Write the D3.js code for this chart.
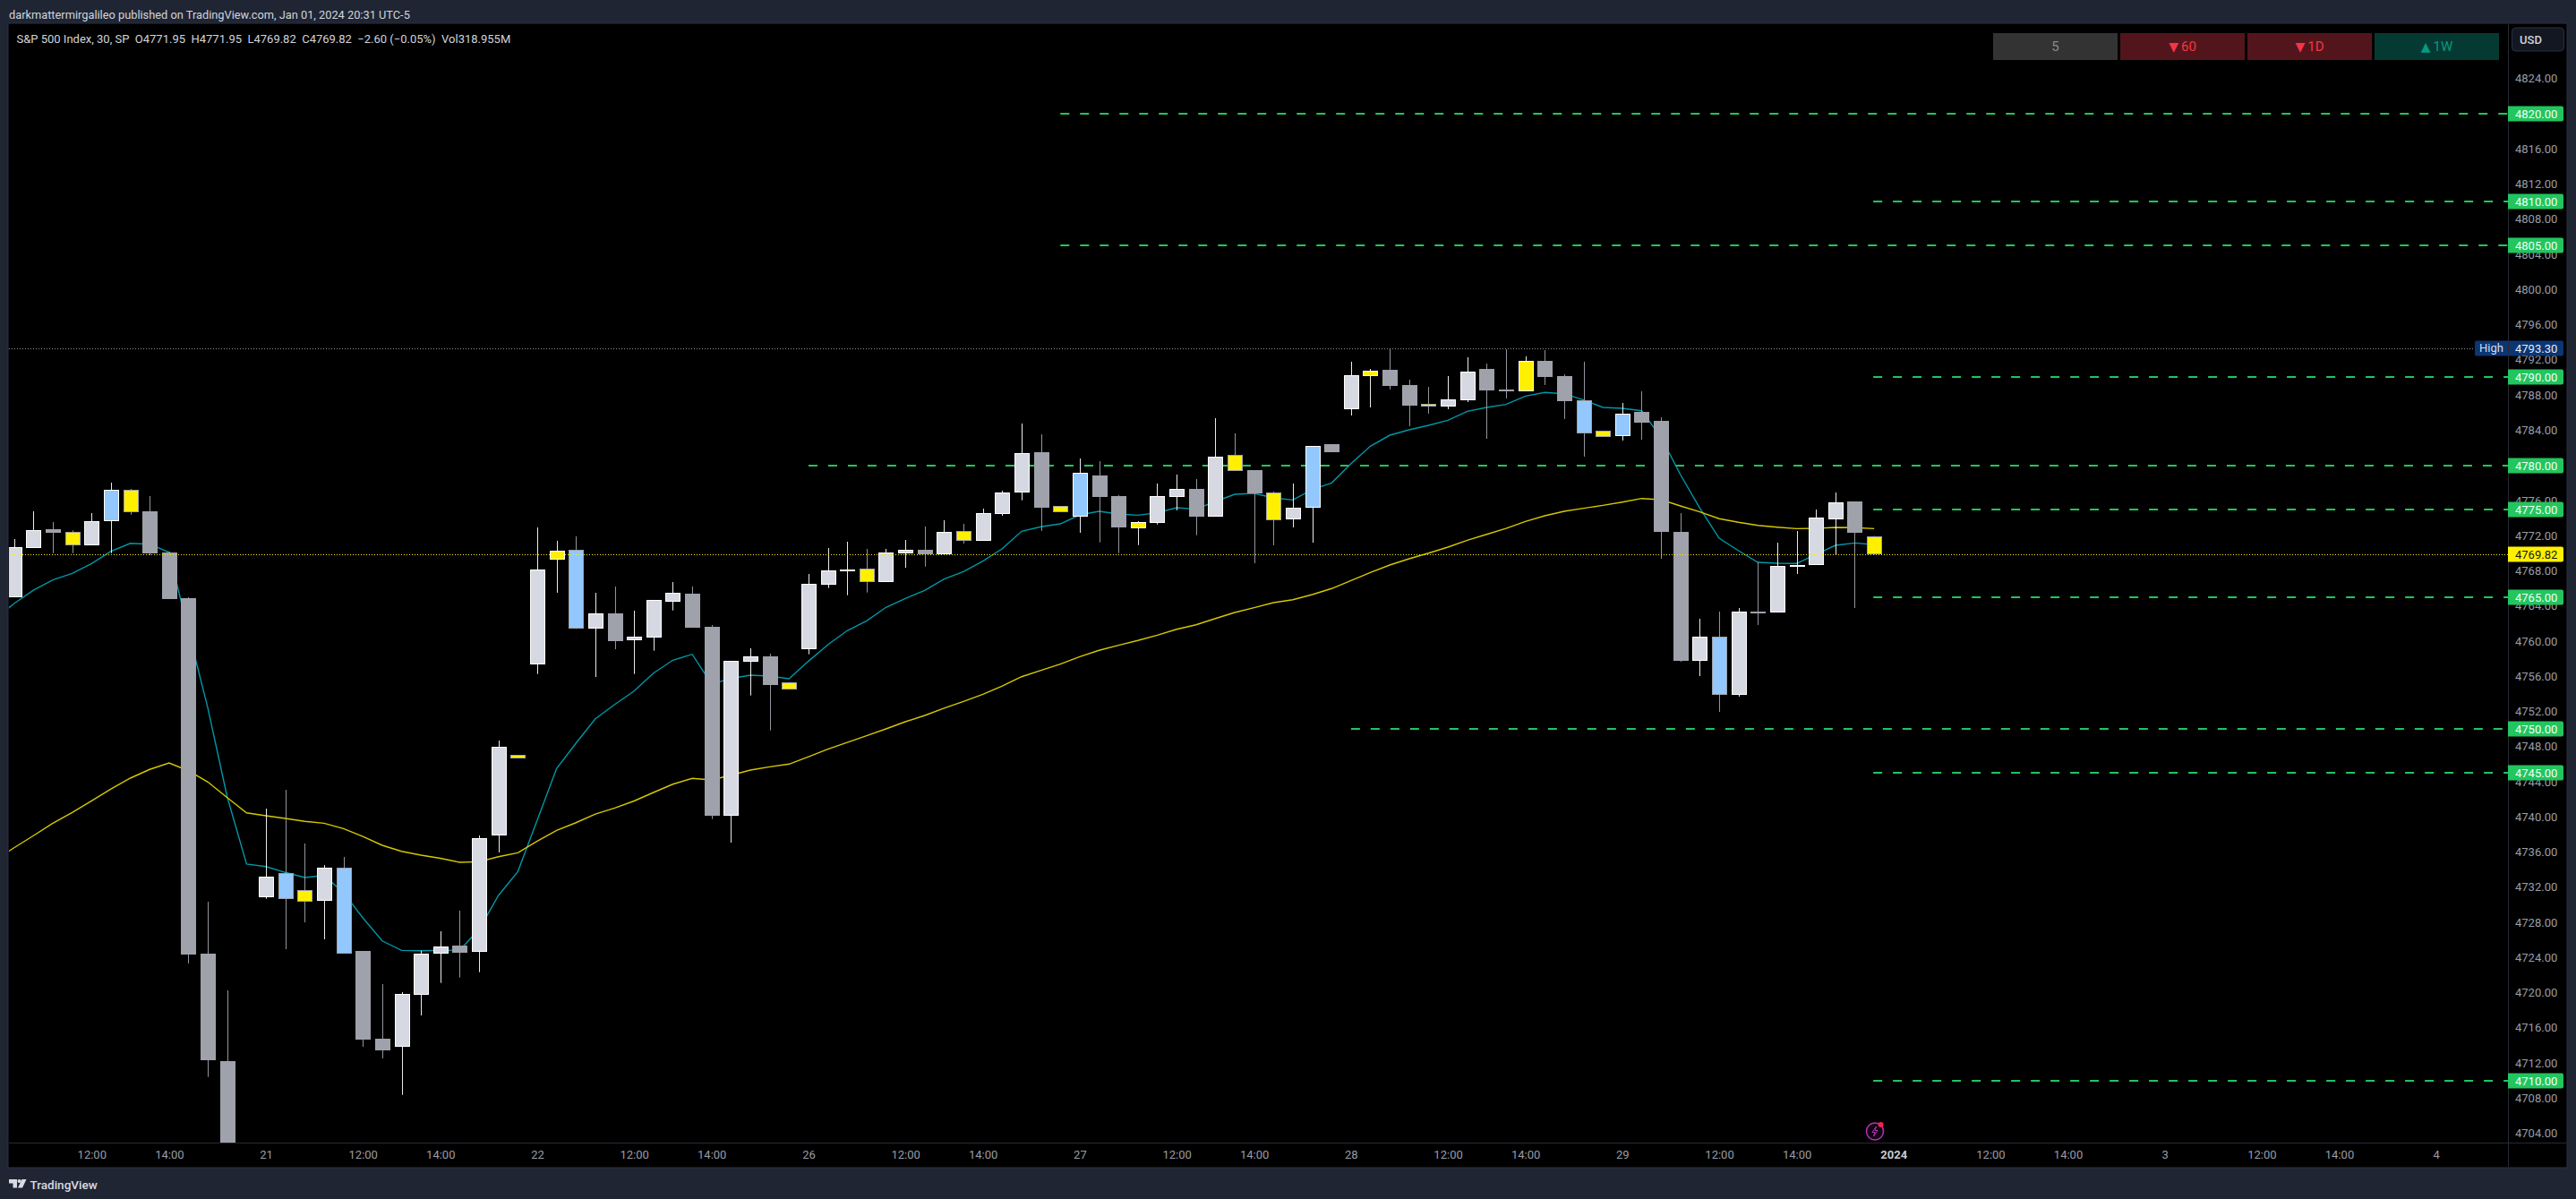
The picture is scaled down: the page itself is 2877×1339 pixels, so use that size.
<!DOCTYPE html>
<html><head><meta charset="utf-8">
<script src="https://cdn.jsdelivr.net/npm/d3@7/dist/d3.min.js"></script>
<style>html,body{margin:0;padding:0;background:#1f2533;overflow:hidden}svg{display:block}text{font-family:Roboto,sans-serif}</style>
</head><body><svg id="c" width="2877" height="1339"></svg>
<script>
const opens=[4765.01,4770.61,4772.72,4772.39,4770.92,4773.67,4777.18,4774.76,4770.07,4764.88,4724.43,4712.20,4701,4730.88,4733.57,4731.63,4730.47,4734.18,4724.73,4714.75,4713.86,4719.77,4724.46,4725.34,4724.60,4737.91,4747.02,4757.37,4769.29,4770.35,4761.44,4763.14,4760.12,4760.42,4764.50,4765.39,4761.62,4740.15,4757.67,4758.22,4755.33,4759.10,4766.44,4768.06,4768.21,4766.74,4770.00,4770.38,4769.90,4772.49,4771.43,4774.49,4776.93,4781.49,4775.34,4774.12,4778.84,4776.49,4772.86,4773.47,4776.42,4777.28,4774.18,4781.15,4779.45,4776.87,4773.87,4775.20,4782.40,4786.41,4790.18,4790.86,4789.13,4786.96,4786.71,4787.43,4790.96,4788.62,4788.44,4791.88,4790.15,4787.37,4783.90,4783.35,4786.07,4785.05,4772.42,4757.78,4760.47,4753.90,4763.32,4763.28,4768.58,4768.68,4773.87,4775.88,4771.95];
const closes=[4770.69,4772.59,4772.32,4770.86,4773.61,4777.18,4774.69,4770.00,4764.78,4724.33,4712.33,4699.46,4698.35,4733.16,4730.67,4730.37,4734.18,4724.46,4714.65,4713.45,4719.84,4724.43,4725.21,4724.56,4737.54,4747.93,4746.67,4768.11,4770.25,4761.38,4763.11,4760.02,4760.47,4764.64,4765.46,4761.55,4740.15,4757.71,4758.22,4755.02,4754.52,4766.48,4768.01,4768.11,4766.74,4770.04,4770.35,4769.87,4772.39,4771.43,4774.53,4776.87,4781.35,4775.17,4774.69,4779.11,4776.39,4772.93,4773.51,4776.46,4777.28,4774.15,4780.95,4779.38,4776.80,4773.77,4775.14,4782.17,4781.49,4790.22,4790.73,4789.03,4786.78,4786.71,4787.47,4790.62,4788.52,4788.41,4791.85,4790.04,4787.29,4783.66,4783.25,4785.84,4784.85,4772.42,4757.75,4760.47,4753.90,4763.32,4763.28,4768.51,4768.62,4774.02,4775.75,4772.32,4769.82];
const highs=[4771.60,4774.76,4773.54,4772.59,4774.56,4778.02,4777.31,4776.49,4770.18,4764.98,4730.34,4720.25,4702,4740.93,4743.07,4736.96,4734.51,4735.43,4724.73,4720.96,4720.05,4724.76,4726.97,4729.32,4737.88,4748.68,4747.02,4772.93,4771.40,4771.91,4765.49,4766.20,4763.45,4764.64,4766.71,4766.20,4761.82,4757.71,4759.17,4758.56,4755.33,4767.63,4770.58,4771.30,4770.48,4770.48,4771.50,4773.03,4773.74,4773.33,4775.07,4777.10,4784.75,4783.52,4775.34,4780.77,4780.47,4776.60,4773.64,4777.92,4778.94,4778.43,4785.36,4783.63,4779.45,4777.00,4777.92,4782.17,4782.40,4791.78,4790.96,4793.30,4789.74,4788.92,4790.15,4792.29,4791.57,4793.20,4792.39,4793.10,4790.35,4791.78,4783.90,4787.09,4788.41,4785.46,4774.56,4762.53,4763.35,4763.76,4769.02,4771.19,4772.52,4774.96,4776.90,4775.88,4771.95];
const lows=[4765.01,4770.61,4770.00,4770.00,4770.92,4770.00,4774.38,4769.77,4764.78,4723.31,4710.40,4698,4697,4730.67,4724.94,4727.99,4726.06,4724.46,4713.83,4712.51,4708.36,4717.40,4721.10,4721.71,4722.32,4735.94,4746.67,4756.25,4765.49,4761.38,4755.91,4759.07,4756.25,4758.90,4763.48,4761.55,4739.74,4737.06,4753.80,4749.83,4754.52,4758.49,4766.03,4765.21,4765.52,4766.74,4768.34,4768.47,4769.77,4771.09,4771.43,4774.25,4776.01,4772.52,4774.69,4772.32,4771.23,4770.00,4770.92,4773.26,4774.86,4772.04,4774.18,4779.38,4768.85,4770.89,4772.93,4771.19,4781.49,4785.66,4786.58,4788.62,4784.44,4785.87,4786.38,4787.19,4783.01,4787.60,4788.44,4789.13,4785.26,4780.98,4783.25,4782.81,4782.91,4769.36,4757.64,4756.01,4751.94,4753.67,4761.82,4763.28,4767.63,4768.68,4769.87,4763.76,4769.82];
const kinds=("wwgywbyggg"+"gggwbywbgg"+"wwwgwwywyb"+"wgwwwggwwg"+"ywwwywwgwy"+"wwwgybggyw"+"wgwygywbgw"+"yggywwggyg"+"gbybgggwbw"+"gwwwwgy").split("");
const tealMA=[4762.43,4764.27,4765.79,4766.95,4767.70,4768.82,4770.21,4771.12,4771.02,4770.10,4761.14,4752.38,4742.26,4734.62,4734.34,4733.67,4733.09,4733.32,4731.39,4728.50,4725.88,4724.80,4724.76,4724.80,4724.83,4727.18,4731.05,4733.77,4739.61,4745.49,4748.37,4751.15,4752.78,4754.31,4756.35,4757.82,4758.49,4755.10,4755.74,4756.11,4756.01,4755.71,4757.71,4759.58,4761.18,4762.30,4763.83,4764.85,4765.76,4767.05,4767.90,4769.09,4770.51,4772.49,4773.00,4773.33,4774.35,4774.76,4774.46,4774.32,4774.59,4775.17,4775.00,4775.88,4776.70,4776.80,4776.29,4776.05,4777.24,4777.99,4780.19,4782.17,4783.42,4784.03,4784.54,4785.12,4786.14,4786.58,4786.92,4787.87,4788.28,4788.14,4787.43,4786.58,4786.48,4786.20,4783.19,4778.94,4775.14,4771.70,4770.28,4768.95,4768.85,4768.82,4769.87,4770.89,4771.16,4770.96];
const yellowMA=[4735.02,4736.48,4737.85,4739.27,4740.49,4741.82,4743.17,4744.40,4745.39,4746.13,4745.24,4743.96,4742.19,4740.45,4740.12,4739.81,4739.48,4739.27,4738.66,4737.77,4736.76,4736.07,4735.64,4735.28,4734.82,4734.89,4735.46,4735.91,4737.23,4738.46,4739.33,4740.32,4741.00,4741.80,4742.77,4743.71,4744.37,4744.19,4744.73,4745.31,4745.69,4746.00,4746.84,4747.69,4748.47,4749.22,4750.00,4750.82,4751.53,4752.35,4753.13,4753.94,4754.89,4755.94,4756.66,4757.37,4758.22,4758.94,4759.51,4760.06,4760.67,4761.34,4761.85,4762.56,4763.25,4763.79,4764.37,4764.70,4765.29,4765.97,4766.88,4767.80,4768.65,4769.36,4770.00,4770.69,4771.47,4772.14,4772.82,4773.61,4774.25,4774.76,4775.10,4775.44,4775.81,4776.22,4776.09,4775.37,4774.69,4773.92,4773.51,4773.16,4772.96,4772.79,4772.82,4772.93,4772.90,4772.79];
const levelPrices=[4820,4810,4805,4790,4780,4775,4765,4750,4745,4710];
const levelStartBar=[54,96,54,96,41,96,96,69,96,96];
const priceTicks=d3.range(4704,4825,4);
const timeTickBars=[4,8,13,18,22,27,32,36,41,46,50,55,60,64,69,74,78,83,88,92,97,102,106,111,116,120,125];
const timeTickLabels=["12:00","14:00","21","12:00","14:00","22","12:00","14:00","26","12:00","14:00","27","12:00","14:00","28","12:00","14:00","29","12:00","14:00","2024","12:00","14:00","3","12:00","14:00","4"];
const highPrice=4793.30, lastPrice=4769.82;
const buttonArrows=["","▼","▼","▲"];
const buttonLabels=["5","60","1D","1W"];
const headerText="darkmattermirgalileo published on TradingView.com, Jan 01, 2024 20:31 UTC-5";
const legendText="S&P 500 Index, 30, SP  O4771.95  H4771.95  L4769.82  C4769.82  −2.60 (−0.05%)  Vol318.955M";

const L=10,T=27,R=2801,B=1276,FR=2866,FB=1303;
const x=d3.scaleLinear().domain([0,100]).range([15.7,2179.7]);
const y=d3.scaleLinear().domain([4820,4704]).range([127,1265.5]);
const svg=d3.select("#c");
svg.append("rect").attr("width",2877).attr("height",1339).attr("fill","#1f2533");
svg.append("rect").attr("x",L-1).attr("y",T-1).attr("width",FR-L+2).attr("height",FB-T+2).attr("fill","#000").attr("stroke","#2a3040").attr("stroke-width",1);
const defs=svg.append("defs");
defs.append("clipPath").attr("id","cp").append("rect").attr("x",L).attr("y",T).attr("width",R-L).attr("height",B-T);
const plot=svg.append("g").attr("clip-path","url(#cp)");

plot.append("line").attr("x1",L).attr("x2",R).attr("y1",Math.round(y(highPrice))+.5).attr("y2",Math.round(y(highPrice))+.5)
 .attr("stroke","#8f8f8f").attr("stroke-dasharray","1 2");
plot.selectAll("line.lv").data(levelPrices).join("line").attr("class","lv")
 .attr("x1",(d,i)=>x(levelStartBar[i])-(levelStartBar[i]==96?1:0)).attr("x2",R)
 .attr("y1",d=>Math.round(y(d))).attr("y2",d=>Math.round(y(d)))
 .attr("stroke","#22c55e").attr("stroke-width",2).attr("stroke-dasharray","10 12");
const lineGen=d3.line().x((d,i)=>x(i-1)).y(d=>y(d));
plot.append("path").attr("d",lineGen(tealMA)).attr("fill","none").attr("stroke","#0097a7").attr("stroke-width",1.4);
plot.append("path").attr("d",lineGen(yellowMA)).attr("fill","none").attr("stroke","#d6c800").attr("stroke-width",1.4);
const fills={w:"#d6d9e2",g:"#9fa2ab",b:"#93c8ff",y:"#fff000"};
const idx=d3.range(opens.length);
const up=i=>closes[i]>=opens[i];
const edge=i=>up(i)?"#ffffff":"#9fa2ab";
plot.selectAll("line.w").data(idx).join("line").attr("class","w")
 .attr("x1",i=>Math.round(x(i))+.5).attr("x2",i=>Math.round(x(i))+.5)
 .attr("y1",i=>y(highs[i])).attr("y2",i=>y(lows[i]))
 .attr("stroke",edge).attr("stroke-width",1).attr("opacity",.92);
plot.selectAll("rect.b").data(idx).join("rect").attr("class","b")
 .attr("shape-rendering","crispEdges")
 .attr("x",i=>Math.round(x(i))-8+.5).attr("width",16)
 .attr("y",i=>Math.round(y(Math.max(opens[i],closes[i])))+.5)
 .attr("height",i=>Math.max(1,Math.round(y(Math.min(opens[i],closes[i])))-Math.round(y(Math.max(opens[i],closes[i])))-1))
 .attr("fill",i=>fills[kinds[i]]).attr("stroke",edge).attr("stroke-width",1);
plot.append("line").attr("x1",L).attr("x2",R).attr("y1",Math.round(y(lastPrice))+.5).attr("y2",Math.round(y(lastPrice))+.5)
 .attr("stroke","#fff000").attr("stroke-dasharray","1 2");

svg.append("line").attr("x1",R+.5).attr("x2",R+.5).attr("y1",T).attr("y2",FB).attr("stroke","#262a35");
svg.append("line").attr("x1",L).attr("x2",FR).attr("y1",B+.5).attr("y2",B+.5).attr("stroke","#262a35");

const yAxis=d3.axisRight(y).tickValues(priceTicks).tickFormat(d=>d.toFixed(2)).tickSize(0).tickPadding(8);
const yg=svg.append("g").attr("transform",`translate(${R},0)`).call(yAxis);
yg.select(".domain").remove();
yg.selectAll("text").attr("fill","#9a9da6").attr("font-size",13).attr("font-family","Roboto");
const xAxis=d3.axisBottom(x).tickValues(timeTickBars).tickFormat((d,i)=>timeTickLabels[i]).tickSize(0).tickPadding(9);
const xg=svg.append("g").attr("transform",`translate(0,${B})`).call(xAxis);
xg.select(".domain").remove();
xg.selectAll("text").attr("font-size",13).attr("font-family","Roboto")
 .attr("font-weight",(d,i)=>timeTickLabels[i]=="2024"?700:400)
 .attr("fill",(d,i)=>timeTickLabels[i]=="2024"?"#c8cbd3":"#9a9da6");

function tag(p,fill,txt){
 const cy=Math.round(y(p));
 svg.append("path").attr("d",`M${R},${cy-8.5}H${R+60}a2,2 0 0 1 2,2V${cy+6.5}a2,2 0 0 1 -2,2H${R}Z`).attr("fill",fill);
 svg.append("text").attr("x",R+8).attr("y",cy+.5).attr("dy",".36em").attr("font-size",13).attr("fill",txt).text(p.toFixed(2));
}
const yh=Math.round(y(highPrice));
svg.append("rect").attr("x",2764).attr("y",yh-8.5).attr("width",99).attr("height",17).attr("rx",2).attr("fill","#0c3573");
svg.append("line").attr("x1",R+.5).attr("x2",R+.5).attr("y1",yh-8.5).attr("y2",yh+8.5).attr("stroke","#262a35");
svg.append("text").attr("x",2769).attr("y",yh-.5).attr("dy",".36em").attr("font-size",13).attr("fill","#d7dcea").text("High");
svg.append("text").attr("x",R+8).attr("y",yh+.5).attr("dy",".36em").attr("font-size",13).attr("fill","#e8ecf5").text(highPrice.toFixed(2));
levelPrices.forEach(p=>tag(p,"#22c55e","#f4fff7"));
tag(lastPrice,"#fff000","#131722");

const btnX=[2226,2368,2510,2652], btnFill=["#333333","#53151c","#53151c","#053a33"], btnText=["#8a8a8a","#f23645","#f23645","#089981"];
buttonLabels.forEach((s,i)=>{
 svg.append("rect").attr("x",btnX[i]).attr("y",37).attr("width",139).attr("height",30).attr("fill",btnFill[i]);
 const t=svg.append("text").attr("x",btnX[i]+69.5).attr("y",52).attr("dy",".36em").attr("text-anchor","middle").attr("font-size",15).attr("fill",btnText[i]);
 if(buttonArrows[i]){t.append("tspan").attr("font-family","DejaVu Sans").attr("font-size",14).attr("dx",0).text(buttonArrows[i]);t.append("tspan").attr("dx",3).text(s);}
 else t.text(s);
});
svg.append("rect").attr("x",2805.5).attr("y",31).attr("width",58).attr("height",26).attr("rx",4).attr("fill","#131722").attr("stroke","#2a3040");
svg.append("text").attr("x",2814).attr("y",44).attr("dy",".36em").attr("font-size",13).attr("font-weight",500).attr("fill","#d1d4dc").text("USD");

svg.append("text").attr("x",10).attr("y",16).attr("dy",".36em").attr("font-size",12.8).attr("fill","#d1d4dc").attr("font-family","Inter, Roboto").text(headerText);
svg.append("text").attr("x",18.5).attr("y",43).attr("dy",".36em").attr("font-size",13).attr("fill","#d1d4dc").style("white-space","pre").text(legendText);

const ic=svg.append("g").attr("transform","translate(2094,1263.5)");
ic.append("circle").attr("r",9.5).attr("fill","#120512").attr("stroke","#b534b5").attr("stroke-width",1.5);
ic.append("path").attr("d","M1.5,-5.5L-3,1H0L-1.5,5.5L3,-1H0Z").attr("fill","none").attr("stroke","#b534b5").attr("stroke-width",1);
ic.append("circle").attr("cx",6.6).attr("cy",-7.5).attr("r",3).attr("fill","#f0234f");

const lg=svg.append("g").attr("fill","#d8dbe3");
lg.append("path").attr("d","M10,1317H19V1326.5H14.5V1321.5H10Z");
lg.append("circle").attr("cx",21.6).attr("cy",1319).attr("r",2.1);
lg.append("path").attr("d","M24.5,1317H29.5L25,1326.5H20Z");
svg.append("text").attr("x",33.5).attr("y",1323).attr("dy",".36em").attr("font-size",13.5).attr("font-weight",500).attr("fill","#d8dbe3").text("TradingView");
</script></body></html>
